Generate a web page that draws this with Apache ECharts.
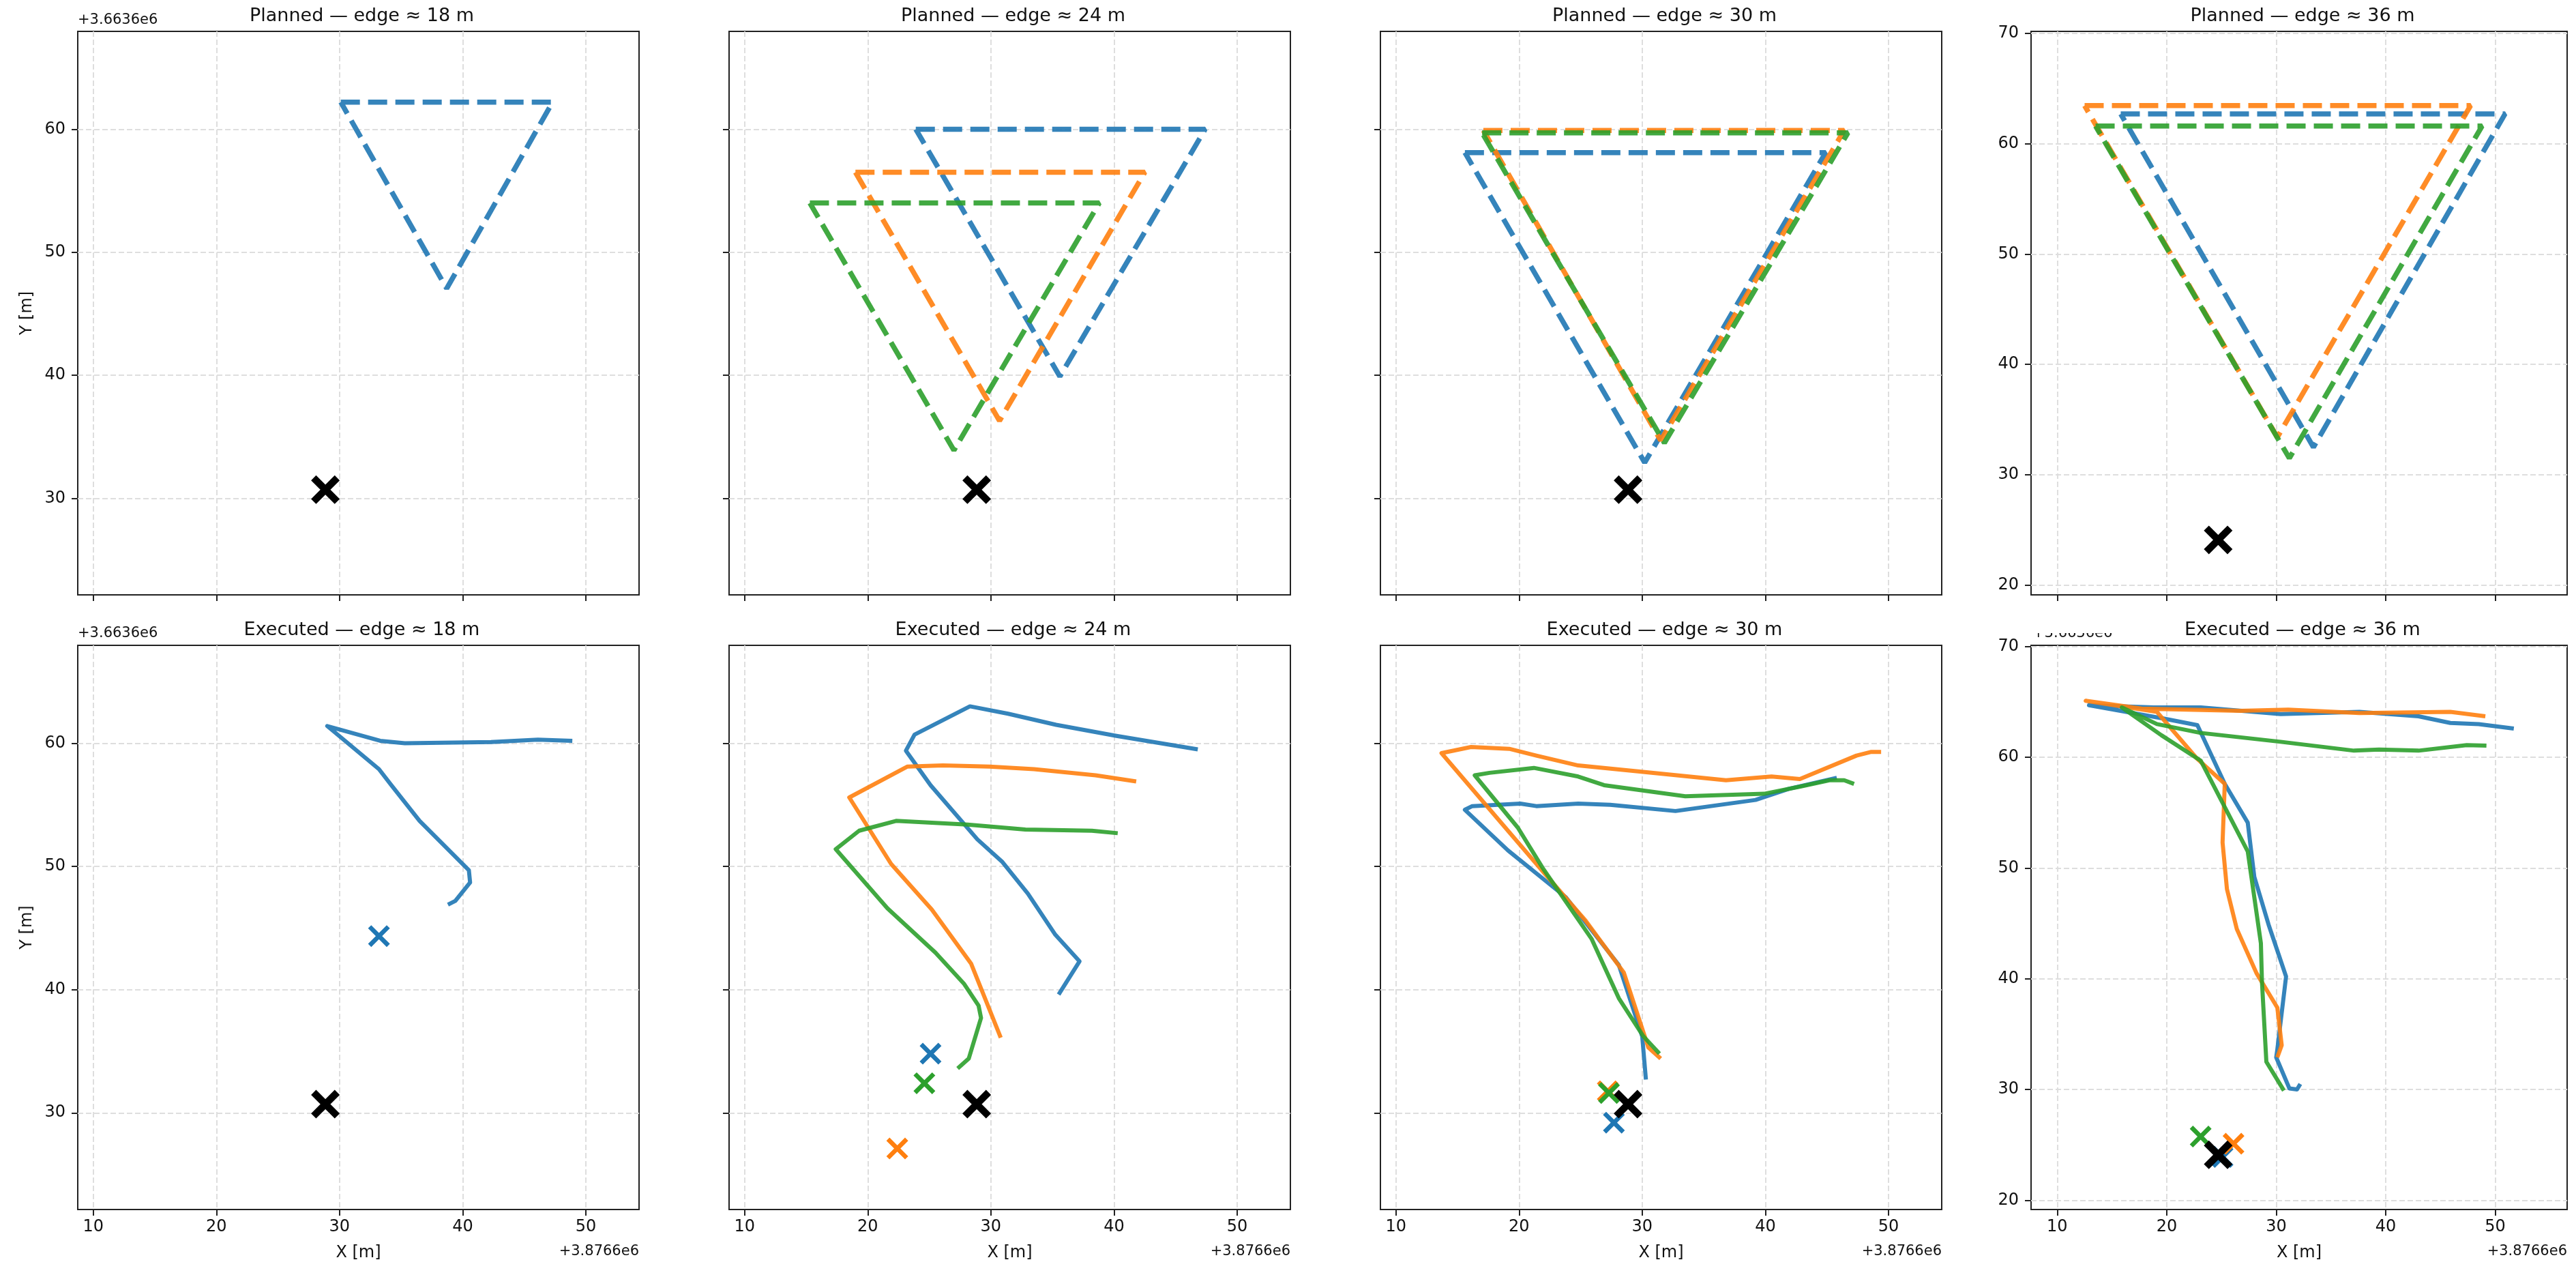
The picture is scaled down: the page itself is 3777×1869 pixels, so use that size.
<!DOCTYPE html>
<html>
<head>
<meta charset="utf-8">
<title>Planned vs executed triangles</title>
<script src="https://cdn.jsdelivr.net/npm/echarts@6/dist/echarts.min.js"></script>
<style>
html, body { margin: 0; padding: 0; background: #fff; }
#main { width: 3777px; height: 1869px; }
</style>
</head>
<body>
<div id="main"></div>
<script>
// tick labels
var xTicks = [10, 20, 30, 40, 50];
var yTicks = [30, 40, 50, 60];
var yTicks36 = [20, 30, 40, 50, 60, 70];
var edges = ['18', '24', '30', '36'];
var runColors = ['#1f77b4', '#ff7f0e', '#2ca02c'];

// target (black cross)
var target = [28.85, 30.7];
var target36 = [24.7, 24.1];

// planned triangles
var plan18Blue = [[30.1, 62.2], [47.3, 62.2], [38.7, 47.05], [30.1, 62.2]];

var plan24Blue = [[23.9, 60.0], [47.4, 60.0], [35.6, 39.9], [23.9, 60.0]];
var plan24Orange = [[19.0, 56.5], [42.5, 56.5], [30.7, 36.3], [19.0, 56.5]];
var plan24Green = [[15.3, 54.0], [38.8, 54.0], [27.0, 33.9], [15.3, 54.0]];

var plan30Blue = [[15.6, 58.1], [44.9, 58.1], [30.2, 32.9], [15.6, 58.1]];
var plan30Orange = [[17.1, 59.9], [46.4, 59.9], [31.5, 34.7], [17.1, 59.9]];
var plan30Green = [[17.0, 59.7], [46.7, 59.7], [31.8, 34.5], [17.0, 59.7]];

var plan36Blue = [[15.8, 62.7], [50.9, 62.7], [33.4, 32.5], [15.8, 62.7]];
var plan36Orange = [[12.5, 63.45], [47.75, 63.45], [30.1, 33.4], [12.5, 63.45]];
var plan36Green = [[13.5, 61.6], [48.8, 61.6], [31.2, 31.5], [13.5, 61.6]];

// executed paths
var exec18Blue = [[38.8, 46.9], [39.4, 47.2], [40.6, 48.7], [40.5, 49.7], [36.5, 53.7], [34.2, 56.6],
  [33.2, 57.9], [29.6, 60.9], [29.0, 61.4], [33.3, 60.2], [35.3, 60.0], [42.3, 60.1], [46.1, 60.3], [48.9, 60.2]];

var exec24Blue = [[35.5, 39.6], [37.2, 42.3], [35.2, 44.5], [33.0, 47.8], [30.9, 50.4], [28.9, 52.2],
  [25.1, 56.6], [23.1, 59.4], [23.8, 60.7], [28.3, 63.0], [31.4, 62.4], [35.3, 61.5], [40.2, 60.6], [46.8, 59.5]];
var exec24Orange = [[30.8, 36.1], [28.4, 42.1], [25.2, 46.5], [21.9, 50.2], [18.5, 55.6], [23.2, 58.1],
  [26.1, 58.2], [29.9, 58.1], [33.5, 57.9], [38.5, 57.4], [41.8, 56.9]];
var exec24Green = [[27.3, 33.6], [28.2, 34.4], [29.2, 37.7], [29.0, 38.7], [27.8, 40.5], [25.5, 43.0],
  [21.6, 46.6], [17.4, 51.4], [19.3, 52.9], [22.3, 53.7], [28.1, 53.4], [32.8, 53.0], [38.2, 52.9], [40.3, 52.7]];

var exec30Blue = [[30.3, 32.7], [30.0, 36.2], [28.1, 42.0], [23.8, 47.5], [19.1, 51.3], [15.6, 54.6],
  [16.2, 54.9], [20.1, 55.1], [21.4, 54.9], [24.8, 55.1], [27.4, 55.0], [32.7, 54.5], [39.2, 55.4],
  [41.9, 56.3], [45.8, 57.2]];
var exec30Orange = [[31.5, 34.4], [30.5, 35.3], [28.5, 41.4], [25.4, 45.6], [22.1, 49.4], [13.7, 59.2],
  [16.1, 59.7], [19.2, 59.55], [21.4, 59.0], [24.8, 58.2], [29.8, 57.7], [36.8, 57.0], [40.5, 57.3],
  [42.8, 57.1], [47.4, 59.0], [48.6, 59.3], [49.4, 59.3]];
var exec30Green = [[31.4, 34.8], [30.1, 36.2], [28.1, 39.3], [25.9, 44.1], [21.9, 49.9], [19.9, 53.15],
  [16.4, 57.4], [17.6, 57.6], [21.2, 58.0], [24.8, 57.3], [26.9, 56.6], [33.5, 55.7], [39.9, 55.9],
  [42.9, 56.5], [45.2, 57.0], [46.4, 57.0], [47.2, 56.7]];

var exec36Blue = [[32.2, 30.5], [31.9, 30.0], [31.2, 30.1], [30.0, 32.9], [30.1, 33.6], [30.9, 40.2],
  [29.3, 44.9], [28.0, 49.2], [27.4, 54.1], [25.3, 57.6], [22.8, 62.9], [19.7, 63.5], [12.9, 64.7],
  [18.8, 64.5], [23.1, 64.5], [30.4, 63.9], [37.6, 64.1], [43.0, 63.7], [45.9, 63.1], [48.5, 63.0], [51.7, 62.6]];
var exec36Orange = [[30.1, 32.9], [30.5, 34.0], [30.1, 37.4], [28.2, 40.5], [26.4, 44.5], [25.5, 48.1],
  [25.1, 52.3], [25.3, 57.6], [22.75, 59.9], [19.1, 64.1], [12.6, 65.1], [17.7, 64.4], [26.7, 64.2],
  [31.1, 64.3], [37.6, 64.0], [45.9, 64.1], [49.1, 63.7]];
var exec36Green = [[30.7, 29.9], [29.1, 32.5], [28.7, 39.7], [28.6, 43.2], [27.4, 51.5], [23.1, 59.7],
  [19.5, 62.0], [15.9, 64.5], [19.1, 63.0], [23.1, 62.2], [30.4, 61.4], [37.1, 60.6], [39.4, 60.7],
  [43.0, 60.6], [47.4, 61.1], [49.2, 61.05]];

// executed end points
var end18 = [[33.2, 44.35], null, null];
var end24 = [[25.1, 34.8], [22.4, 27.1], [24.6, 32.4]];
var end30 = [[27.7, 29.2], [27.2, 31.75], [27.3, 31.6]];
var end36 = [[25.1, 23.9], [26.1, 25.1], [23.1, 25.75]];

// panel layout (pixels)
var cols = [
  { left: 114, width: 823 },
  { left: 1069, width: 823 },
  { left: 2024, width: 823 },
  { left: 2978, width: 786 }
];
var rows = [
  { top: 46, height: 826 },
  { top: 946, height: 827 }
];

var panels = [
  { plan: [plan18Blue, null, null], exec: [exec18Blue, null, null], ends: end18, target: target },
  { plan: [plan24Blue, plan24Orange, plan24Green], exec: [exec24Blue, exec24Orange, exec24Green], ends: end24, target: target },
  { plan: [plan30Blue, plan30Orange, plan30Green], exec: [exec30Blue, exec30Orange, exec30Green], ends: end30, target: target },
  { plan: [plan36Blue, plan36Orange, plan36Green], exec: [exec36Blue, exec36Orange, exec36Green], ends: end36, target: target36 }
];

var FONT = 'DejaVu Sans';
var INK = '#111';
// "x" marker outlines (two crossed bars)
var crossThick = 'path://M10.6,-10.6L110.6,89.4L89.4,110.6L-10.6,10.6ZM110.6,10.6L10.6,110.6L-10.6,89.4L89.4,-10.6Z';
var crossThin = 'path://M8.5,-8.5L108.5,91.5L91.5,108.5L-8.5,8.5ZM108.5,8.5L8.5,108.5L-8.5,91.5L91.5,-8.5Z';

var grids = [], xAxes = [], yAxes = [], series = [], titles = [], graphics = [];

for (var r = 0; r < 2; r++) {
  for (var c = 0; c < 4; c++) {
    var gi = r * 4 + c;
    var p = panels[c];
    var col = cols[c], row = rows[r];

    grids.push({
      left: col.left, top: row.top, width: col.width, height: row.height,
      show: true, borderColor: '#222', borderWidth: 2, backgroundColor: 'transparent'
    });

    var xr = c < 3 ? [8.74, 54.32] : [7.61, 56.57];
    var yr = c < 3 ? [22.15, 67.95] : (r === 0 ? [19.12, 70.18] : [19.16, 70.11]);
    var yt = c < 3 ? yTicks : yTicks36;

    xAxes.push({
      gridIndex: gi, type: 'value', min: xr[0], max: xr[1],
      axisLine: { show: false },
      axisTick: { show: true, length: 9, customValues: xTicks, lineStyle: { color: '#222', width: 2 } },
      axisLabel: { show: r === 1, customValues: xTicks, margin: 14, fontSize: 24, color: INK, fontFamily: FONT },
      splitLine: { show: true, lineStyle: { color: '#dedede', width: 2, type: [8, 4] } },
      name: r === 1 ? 'X [m]' : '', nameLocation: 'middle', nameGap: 52,
      nameTextStyle: { fontSize: 24, color: INK, fontFamily: FONT }
    });

    yAxes.push({
      gridIndex: gi, type: 'value', min: yr[0], max: yr[1],
      axisLine: { show: false },
      axisTick: { show: true, length: 9, customValues: yt, lineStyle: { color: '#222', width: 2 } },
      axisLabel: { show: c === 0 || c === 3, customValues: yt, margin: 18, fontSize: 24, color: INK, fontFamily: FONT },
      splitLine: { show: true, lineStyle: { color: '#dedede', width: 2, type: [8, 4] } },
      name: c === 0 ? 'Y [m]' : '', nameLocation: 'middle', nameGap: 62,
      nameTextStyle: { fontSize: 24, color: INK, fontFamily: FONT }
    });

    titles.push({
      text: (r === 0 ? 'Planned' : 'Executed') + ' \u2014 edge \u2248 ' + edges[c] + ' m',
      left: col.left + col.width / 2, top: r === 0 ? 5 : 905, textAlign: 'center',
      textStyle: { fontSize: 27, fontWeight: 'normal', color: INK, fontFamily: FONT }
    });

    for (var k = 0; k < 3; k++) {
      var path = r === 0 ? p.plan[k] : p.exec[k];
      if (!path) continue;
      series.push({
        type: 'line', xAxisIndex: gi, yAxisIndex: gi, data: path,
        symbol: 'none', silent: true, z: 2,
        lineStyle: r === 0
          ? { color: runColors[k], width: 7.5, type: [28, 12], opacity: 0.9 }
          : { color: runColors[k], width: 6, opacity: 0.9, join: 'round' }
      });
    }

    if (r === 1) {
      for (var k2 = 0; k2 < 3; k2++) {
        if (!p.ends[k2]) continue;
        series.push({
          type: 'scatter', xAxisIndex: gi, yAxisIndex: gi, data: [p.ends[k2]],
          symbol: crossThin, symbolSize: 32, silent: true, z: 3,
          itemStyle: { color: runColors[k2], opacity: 1 }
        });
      }
    }

    series.push({
      type: 'scatter', xAxisIndex: gi, yAxisIndex: gi, data: [p.target],
      symbol: crossThick, symbolSize: 42, silent: true, z: 4,
      itemStyle: { color: '#000', opacity: 1 }
    });
  }
}

// axis offset texts
function offsetText(txt, x, y, align) {
  return {
    type: 'text', z: 10, silent: true,
    style: { text: txt, x: x, y: y, align: align, verticalAlign: 'middle', font: '21px "DejaVu Sans"', fill: INK }
  };
}
graphics.push(offsetText('+3.6636e6', cols[0].left, rows[0].top - 16, 'left'));
graphics.push(offsetText('+3.6636e6', cols[0].left, rows[1].top - 17, 'left'));
for (var c2 = 0; c2 < 4; c2++) {
  graphics.push(offsetText('+3.8766e6', cols[c2].left + cols[c2].width, 1835, 'right'));
}
// partly hidden offset text above the last executed panel
graphics.push(offsetText('+3.6636e6', cols[3].left + 2, rows[1].top - 17, 'left'));
graphics.push({
  type: 'rect', z: 11, silent: true,
  shape: { x: cols[3].left - 2, y: rows[1].top - 40, width: 170, height: 22 },
  style: { fill: '#fff' }
});

var chart = echarts.init(document.getElementById('main'), null, { renderer: 'canvas' });
chart.setOption({
  animation: false,
  backgroundColor: '#fff',
  title: titles,
  grid: grids,
  xAxis: xAxes,
  yAxis: yAxes,
  series: series,
  graphic: graphics
});
</script>
</body>
</html>
